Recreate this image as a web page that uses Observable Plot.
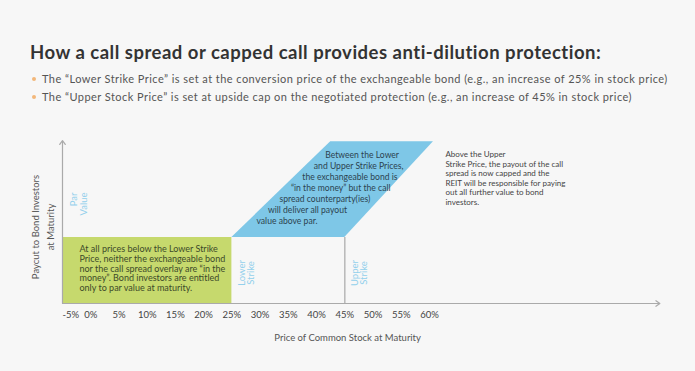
<!DOCTYPE html>
<html>
<head>
<meta charset="utf-8">
<script src="https://cdn.jsdelivr.net/npm/d3@7"></script>
<script src="https://cdn.jsdelivr.net/npm/@observablehq/plot@0.6"></script>
<style>
  html, body { margin: 0; padding: 0; background: #f7f7f7; }
  body { width: 695px; height: 371px; overflow: hidden; font-family: Lato, "Open Sans", sans-serif; }
  #header { position: relative; height: 120px; }
  #title { position: absolute; left: 30px; top: 43px; font-size: 18.5px; font-weight: 700; color: #333; line-height: 1; white-space: nowrap; letter-spacing: 0.5px; }
  .bullet { position: absolute; left: 42px; font-size: 11px; color: #555; line-height: 1; white-space: nowrap; letter-spacing: 0.45px; }
  .bullet::before { content: ""; position: absolute; left: -10px; top: 4px; width: 4px; height: 4px; border-radius: 50%; background: #f3b77a; }
  #chart svg { display: block; }
</style>
</head>
<body>
<div id="header">
  <div id="title"></div>
  <div class="bullet" id="b0" style="top:73px"></div>
  <div class="bullet" id="b1" style="top:91px"></div>
</div>
<div id="chart"></div>
<script>
// ---- text ----
const titleText = "How a call spread or capped call provides anti-dilution protection:";
const bulletTexts = [
  "The \u201CLower Strike Price\u201D is set at the conversion price of the exchangeable bond (e.g., an increase of 25% in stock price)",
  "The \u201CUpper Stock Price\u201D is set at upside cap on the negotiated protection (e.g., an increase of 45% in stock price)"
];
const xTicks = [-5, 0, 5, 10, 15, 20, 25, 30, 35, 40, 45, 50, 55, 60];
const xLabel = "Price of Common Stock at Maturity";
const yLabelLines = ["Paycut to Bond Investors", "at Maturity"];
const strikeValues = [25, 45];
const strikeLabels = ["Lower\nStrike", "Upper\nStrike"];
const parLabel = "Par\nValue";
const parValue = 1;
const capTop = 2.45;            // top of the payout region
const capTopSpan = [42.5, 60.7]; // x extent of the top edge of the call spread region
const xStart = -5;
const xAxisEnd = 100.8;
const yAxisEnd = 2.47;
const greenLines = [
  "At all prices below the Lower Strike",
  "Price, neither the exchangeable bond",
  "nor the call spread overlay are \u201Cin the",
  "money\u201D. Bond investors are entitled",
  "only to par value at maturity."
];
const blueLines = [
  "Between the Lower",
  "and Upper Strike Prices,",
  "the exchangeable bond is",
  "\u201Cin the money\u201D but the call",
  "spread counterparty(ies)",
  "will deliver all payout",
  "value above par."
];
const rightLines = [
  "Above the Upper",
  "Strike Price, the payout of the call",
  "spread is now capped and the",
  "REIT will be responsible for paying",
  "out all further value to bond",
  "investors."
];

document.getElementById("title").textContent = titleText;
document.getElementById("b0").textContent = bulletTexts[0];
document.getElementById("b1").textContent = bulletTexts[1];

const green = "#c6d96d";
const blue = "#7ec7e7";
const lightBlue = "#93d0ec";
const axisGray = "#aaaaaa";

const pxPerX = (429 - 62) / 65;  // pixels per x unit
const pxPerY = 66;               // pixels per y unit

const [lower, upper] = strikeValues;
// left slanted edge of the call spread region, as a function of y
const edgeX = y => lower + (y - parValue) / (capTop - parValue) * (capTopSpan[0] - lower);

const blueData = blueLines.map((t, i) => {
  const y = capTop - (13 + 11.1 * i) / pxPerY;
  return {t, x: edgeX(y) + 8 / pxPerX, y};
});
const greenData = greenLines.map((t, i) => ({t, x: xStart + 17 / pxPerX, y: parValue - (12 + 9.7 * i) / pxPerY}));
const rightData = rightLines.map((t, i) => ({t, x: capTopSpan[1] + 12 / pxPerX, y: capTop - (13 + 9.5 * i) / pxPerY}));
const yLabelData = yLabelLines.map((t, i) => ({t, x: xStart - (27 - 15.5 * i) / pxPerX, y: (183 - 106.5) / pxPerY}));

const chart = Plot.plot({
  width: 695,
  height: 251,
  marginLeft: 62,
  marginRight: 35,
  marginTop: 18,
  marginBottom: 68,
  x: {domain: [-5, 60], range: [62, 429], axis: null},
  y: {domain: [0, 2.5], range: [183, 18], axis: null},
  style: {background: "transparent", fontFamily: "Lato, 'Open Sans', sans-serif", overflow: "visible"},
  marks: [
    Plot.rect([{x1: xStart, x2: lower, y1: 0, y2: parValue}], {x1: "x1", x2: "x2", y1: "y1", y2: "y2", fill: green}),
    Plot.areaX([{y: parValue, x1: lower, x2: upper}, {y: capTop, x1: capTopSpan[0], x2: capTopSpan[1]}],
      {y: "y", x1: "x1", x2: "x2", fill: blue, curve: "linear"}),
    Plot.ruleX([upper], {y1: 0, y2: parValue, stroke: "#b8b8b8", strokeWidth: 1.5}),
    Plot.arrow([{x1: xStart, y1: 0, x2: xAxisEnd, y2: 0}], {x1: "x1", y1: "y1", x2: "x2", y2: "y2", stroke: axisGray, strokeWidth: 1.2, headLength: 6, headAngle: 70}),
    Plot.arrow([{x1: xStart, y1: 0, x2: xStart, y2: yAxisEnd}], {x1: "x1", y1: "y1", x2: "x2", y2: "y2", stroke: axisGray, strokeWidth: 1.2, headLength: 6, headAngle: 70}),
    Plot.axisX(xTicks.slice(0, 1), {tickSize: 0, tickPadding: 8, tickFormat: d => d + "%", textAnchor: "start", fontSize: 9.5, fill: "#444", label: null}),
    Plot.axisX(xTicks.slice(1), {tickSize: 0, tickPadding: 8, tickFormat: d => d + "%", fontSize: 9.5, fill: "#444", label: null}),
    Plot.text([xLabel], {x: 45.5, frameAnchor: "bottom", dy: 37, fontSize: 9.5, fill: "#555"}),
    Plot.text(yLabelData, {x: "x", y: "y", text: "t", textAnchor: "middle", rotate: -90, fontSize: 9.5, fill: "#555"}),
    Plot.text([parLabel], {x: xStart + 16.3 / pxPerX, y: parValue + 45 / pxPerY, rotate: -90, textAnchor: "end", lineHeight: 1.0, fontSize: 9.5, fill: lightBlue}),
    Plot.text(strikeLabels, {x: (d, i) => strikeValues[i] + 2.6, y: parValue - 35.5 / pxPerY, rotate: -90, lineHeight: 1.0, fontSize: 9.5, fill: lightBlue}),
    Plot.text(greenData, {x: "x", y: "y", text: "t", textAnchor: "start", fontSize: 9, fill: "#3d4a2a"}),
    Plot.text(blueData, {x: "x", y: "y", text: "t", textAnchor: "start", fontSize: 8.6, fill: "#2c4350"}),
    Plot.text(rightData, {x: "x", y: "y", text: "t", textAnchor: "start", fontSize: 8, fill: "#444"})
  ]
});
document.getElementById("chart").appendChild(chart);
</script>
</body>
</html>
